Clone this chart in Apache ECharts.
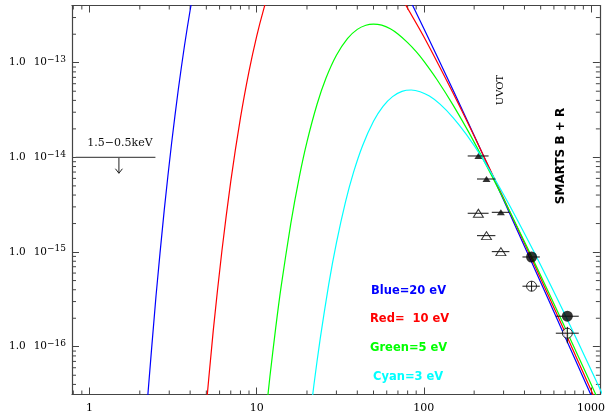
<!DOCTYPE html>
<html><head><meta charset="utf-8">
<script src="https://cdn.jsdelivr.net/npm/echarts@6/dist/echarts.min.js"></script>
<style>html,body{margin:0;padding:0;background:#fff}#c{width:608px;height:417px}</style>
</head><body><div id="c"></div>
<script>
// ---- data (wavelength nm, flux) ----
const blueWien = [[2.2,2.21e-17],[2.5,3.43e-16],[2.8,2.77e-15],[3.1,1.42e-14],[3.4,5.24e-14],[3.7,1.51e-13],[4.0,3.58e-13],[4.4,9.08e-13]];
const blueTail = [[75,6.49e-13],[100,2.30e-13],[150,5.09e-14],[200,1.70e-14],[300,3.54e-15],[450,7.26e-16],[700,1.27e-16],[1000,3.09e-17],[1200,1.50e-17]];
const redWien = [[4.8,1.09e-17],[5.5,1.48e-16],[6.2,1.04e-15],[7.0,5.57e-15],[8.0,2.61e-14],[9.0,8.11e-14],[10,1.90e-13],[11,3.64e-13],[12,6.03e-13]];
const redTail = [[70,5.62e-13],[100,1.88e-13],[150,4.73e-14],[200,1.68e-14],[300,3.71e-15],[450,7.88e-16],[700,1.42e-16],[1000,3.49e-17],[1200,1.70e-17]];
const greenCurve = [[11,1.14e-17],[12,4.82e-17],[13,1.58e-16],[14,4.28e-16],[16,2.00e-15],[18,6.24e-15],[20,1.46e-14],[23,3.66e-14],[26,6.89e-14],[30,1.20e-13],[35,1.81e-13],[40,2.25e-13],[45,2.49e-13],[50,2.56e-13],[56,2.49e-13],[63,2.28e-13],[70,2.01e-13],[80,1.63e-13],[90,1.31e-13],[100,1.04e-13],[120,6.61e-14],[150,3.54e-14],[200,1.45e-14],[300,3.63e-15],[450,8.37e-16],[700,1.59e-16],[1000,4.03e-17],[1200,1.99e-17]];
const cyanCurve = [[20,9.7e-18],[22,3.94e-17],[24,1.22e-16],[27,4.59e-16],[30,1.25e-15],[34,3.39e-15],[38,6.98e-15],[43,1.33e-14],[50,2.41e-14],[57,3.46e-14],[65,4.38e-14],[74,4.98e-14],[84,5.15e-14],[95,4.94e-14],[108,4.44e-14],[125,3.65e-14],[150,2.62e-14],[180,1.74e-14],[220,1.03e-14],[300,4.06e-15],[450,1.05e-15],[700,2.17e-16],[1000,5.73e-17],[1200,2.86e-17]];

const uvotFilled = [[212,1.035e-14],[237,5.91e-15],[289,2.63e-15]];
const uvotOpen = [[212,2.57e-15],[237,1.49e-15],[289,1.01e-15]];
const uvotXErr = [[183,244],[208,268],[255,325]];
const smartsFilled = [[441,8.87e-16],[722,2.10e-16]];
const smartsOpen = [[441,4.36e-16],[722,1.39e-16]];
const smartsXErr = [[389,494],[616,845]];
const smartsOpenYErr = [[3.85e-16,4.92e-16],[1.09e-16,1.62e-16]];

const xrayLimit = [[0.827,1e-14],[2.48,1e-14]];
const xrayArrow = [[1.5,1e-14],[1.5,6.8e-15]];

const xTickValues = [1,10,100,1000];
const xTickLabels = ['1','10','100','1000'];
const yTickValues = [1e-16,1e-15,1e-14,1e-13];
const yTickExp = ['\u221216','\u221215','\u221214','\u221213'];
const xMinorTicks = [0.8,0.9,2,3,4,5,6,7,8,9,20,30,40,50,60,70,80,90,200,300,400,500,600,700,800,900];
const yMinorTicks = [4e-17,5e-17,6e-17,7e-17,8e-17,9e-17,2e-16,3e-16,4e-16,5e-16,6e-16,7e-16,8e-16,9e-16,2e-15,3e-15,4e-15,5e-15,6e-15,7e-15,8e-15,9e-15,2e-14,3e-14,4e-14,5e-14,6e-14,7e-14,8e-14,9e-14,2e-13,3e-13];

const xMin = 0.786, xMax = 1130, yMin = 3.13e-17, yMax = 4.02e-13;

// ---- chart ----
const AX = '#444';
function matchIdx(vals, v){
  for (let i=0;i<vals.length;i++){ if (Math.abs(Math.log10(v)-Math.log10(vals[i]))<1e-6) return i; }
  return -1;
}
const axisCommonX = {
  type:'log', logBase:10, min:xMin, max:xMax,
  axisLine:{show:true, onZero:false, lineStyle:{color:AX, width:1.2}},
  axisTick:{show:true, inside:true, length:7, lineStyle:{color:AX, width:1}},
  splitLine:{show:false}, minorTick:{show:false}, minorSplitLine:{show:false}
};
const axisCommonY = {
  type:'log', logBase:10, min:yMin, max:yMax,
  axisLine:{show:true, onZero:false, lineStyle:{color:AX, width:1.2}},
  axisTick:{show:true, inside:true, length:7, lineStyle:{color:AX, width:1}},
  splitLine:{show:false}, minorTick:{show:false}, minorSplitLine:{show:false}
};

function errRows(pts, xerr, yerr){
  return pts.map((p,i)=>[p[0], p[1], xerr[i][0], xerr[i][1], yerr ? yerr[i][0] : 0, yerr ? yerr[i][1] : 0]);
}
const errData = errRows(uvotFilled, uvotXErr).concat(errRows(uvotOpen, uvotXErr))
  .concat(errRows(smartsFilled, smartsXErr)).concat(errRows(smartsOpen, smartsXErr, smartsOpenYErr));

function curve(data, color){
  return {type:'line', data:data, showSymbol:false, symbol:'none', smooth:0.25, clip:true,
    lineStyle:{color:color, width:1.2}, silent:true, z:3};
}

const chart = echarts.init(document.getElementById('c'), null, {renderer:'canvas'});
chart.setOption({
  animation:false,
  backgroundColor:'#fff',
  grid:{left:72, right:7, top:5.5, bottom:22.5, containLabel:false},
  xAxis:[
    Object.assign({}, axisCommonX, {position:'bottom', axisLabel:{show:true, margin:8, color:'#000', fontFamily:'DejaVu Serif', fontSize:11,
      formatter:function(v){ const i = matchIdx(xTickValues, v); return i<0 ? '' : xTickLabels[i]; }}}),
    Object.assign({}, axisCommonX, {position:'top', axisLabel:{show:false}})
  ],
  yAxis:[
    Object.assign({}, axisCommonY, {position:'left', axisLabel:{show:true, margin:6, align:'right',
      formatter:function(v){ const i = matchIdx(yTickValues, v); return i<0 ? '' : '{a|1.0}{b|10}{e|' + yTickExp[i] + '}'; },
      rich:{
        a:{fontFamily:'DejaVu Serif', fontSize:10.5, color:'#000', padding:[0,8,0,0]},
        b:{fontFamily:'DejaVu Serif', fontSize:10.5, color:'#000'},
        e:{fontFamily:'DejaVu Serif', fontSize:9, color:'#000', padding:[0,0,6,0]}
      }}}),
    Object.assign({}, axisCommonY, {position:'right', axisLabel:{show:false}})
  ],
  series:[
    // minor ticks on x (bottom & top)
    {type:'custom', silent:true, clip:false, z:1, encode:{x:0,y:1},
      data: xMinorTicks.map(v=>[v, yMin]),
      renderItem:function(params, api){
        const p = api.coord([api.value(0), yMin]);
        const cs = params.coordSys;
        return {type:'group', children:[
          {type:'line', shape:{x1:p[0], y1:cs.y+cs.height, x2:p[0], y2:cs.y+cs.height-4}, style:{stroke:AX, lineWidth:1}},
          {type:'line', shape:{x1:p[0], y1:cs.y, x2:p[0], y2:cs.y+4}, style:{stroke:AX, lineWidth:1}}
        ]};
      }},
    // minor ticks on y (left & right)
    {type:'custom', silent:true, clip:false, z:1, encode:{x:0,y:1},
      data: yMinorTicks.map(v=>[xMin, v]),
      renderItem:function(params, api){
        const p = api.coord([xMin, api.value(1)]);
        const cs = params.coordSys;
        return {type:'group', children:[
          {type:'line', shape:{x1:cs.x, y1:p[1], x2:cs.x+4, y2:p[1]}, style:{stroke:AX, lineWidth:1}},
          {type:'line', shape:{x1:cs.x+cs.width, y1:p[1], x2:cs.x+cs.width-4, y2:p[1]}, style:{stroke:AX, lineWidth:1}}
        ]};
      }},
    curve(blueWien, '#0000ff'), curve(blueTail, '#0000ff'),
    curve(redWien, '#ff0000'), curve(redTail, '#ff0000'),
    curve(greenCurve, '#00ff00'),
    curve(cyanCurve, '#00ffff'),
    // X-ray upper limit
    {type:'line', data:xrayLimit, showSymbol:false, symbol:'none', clip:true, silent:true,
      lineStyle:{color:'#555', width:1.4}, z:2},
    {type:'custom', silent:true, clip:false, z:2, encode:{x:0,y:1},
      data:[[xrayArrow[0][0], xrayArrow[0][1], xrayArrow[1][1]]],
      renderItem:function(params, api){
        const a = api.coord([api.value(0), api.value(1)]);
        const b = api.coord([api.value(0), api.value(2)]);
        return {type:'group', children:[
          {type:'line', shape:{x1:a[0], y1:a[1], x2:b[0], y2:b[1]}, style:{stroke:'#222', lineWidth:1}},
          {type:'polyline', shape:{points:[[b[0]-3.5, b[1]-4.5],[b[0], b[1]],[b[0]+3.5, b[1]-4.5]]}, style:{stroke:'#222', fill:null, lineWidth:1}}
        ]};
      }},
    // error bars
    {type:'custom', silent:true, clip:true, z:6, encode:{x:0,y:1},
      data: errData,
      renderItem:function(params, api){
        const y = api.value(1);
        const a = api.coord([api.value(2), y]);
        const b = api.coord([api.value(3), y]);
        const ch = [{type:'line', shape:{x1:a[0], y1:a[1], x2:b[0], y2:b[1]}, style:{stroke:'#111', lineWidth:1}}];
        if (api.value(4) > 0){
          const c = api.coord([api.value(0), api.value(4)]);
          const d = api.coord([api.value(0), api.value(5)]);
          ch.push({type:'line', shape:{x1:c[0], y1:c[1], x2:d[0], y2:d[1]}, style:{stroke:'#111', lineWidth:1}});
        }
        return {type:'group', children:ch};
      }},
    {type:'scatter', data:uvotFilled, symbol:'triangle', symbolSize:[8,6], itemStyle:{color:'#000'}, silent:true, z:5},
    {type:'scatter', data:uvotOpen, symbol:'triangle', symbolSize:[10,8], itemStyle:{color:'#fff', borderColor:'#000', borderWidth:1}, silent:true, z:5},
    {type:'scatter', data:smartsFilled, symbol:'circle', symbolSize:11, itemStyle:{color:'#000'}, silent:true, z:5},
    {type:'scatter', data:smartsOpen, symbol:'circle', symbolSize:10, itemStyle:{color:'#fff', borderColor:'#000', borderWidth:1}, silent:true, z:5}
  ],
  graphic:[
    {type:'text', x:120, y:143, style:{text:'1.5\u22120.5keV', fontFamily:'DejaVu Serif', fontSize:11, fill:'#111', align:'center', verticalAlign:'middle'}},
    {type:'text', x:500, y:90, rotation:Math.PI/2, style:{text:'UVOT', fontFamily:'DejaVu Serif', fontSize:10, fill:'#000', align:'center', verticalAlign:'middle'}},
    {type:'text', x:561, y:156, rotation:Math.PI/2, style:{text:'SMARTS B + R', fontFamily:'DejaVu Sans', fontWeight:'bold', fontSize:12, fill:'#000', align:'center', verticalAlign:'middle'}},
    {type:'text', x:371, y:291, style:{text:'Blue=20 eV', fontFamily:'DejaVu Sans', fontWeight:'bold', fontSize:11.5, fill:'#0000ff', align:'left', verticalAlign:'middle'}},
    {type:'text', x:370, y:319.5, style:{text:'Red=  10 eV', fontFamily:'DejaVu Sans', fontWeight:'bold', fontSize:11.5, fill:'#ff0000', align:'left', verticalAlign:'middle'}},
    {type:'text', x:370, y:348.5, style:{text:'Green=5 eV', fontFamily:'DejaVu Sans', fontWeight:'bold', fontSize:11.5, fill:'#00ff00', align:'left', verticalAlign:'middle'}},
    {type:'text', x:373, y:377, style:{text:'Cyan=3 eV', fontFamily:'DejaVu Sans', fontWeight:'bold', fontSize:11.5, fill:'#00ffff', align:'left', verticalAlign:'middle'}}
  ]
});
</script>
</body></html>
